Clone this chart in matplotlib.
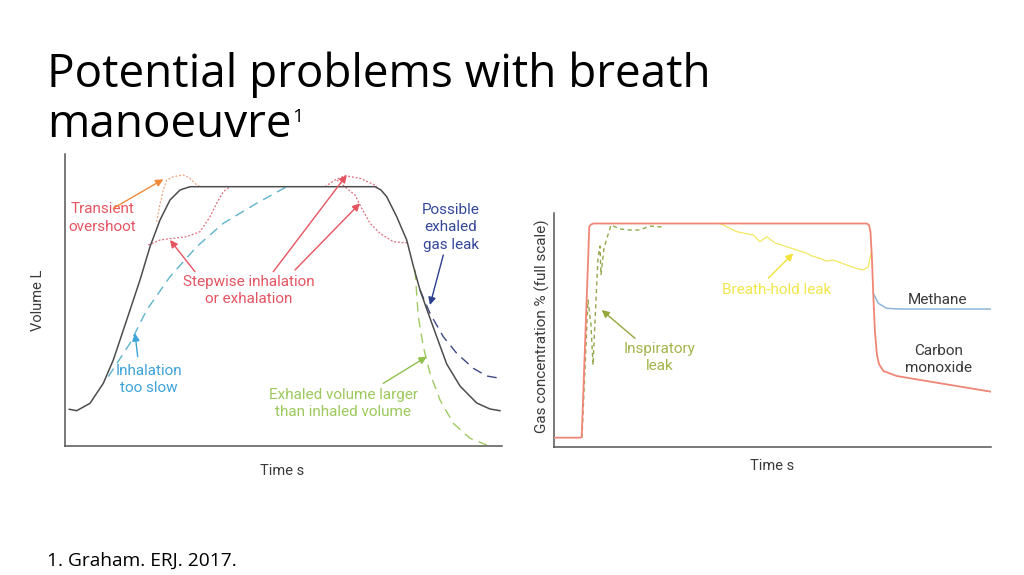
import matplotlib
matplotlib.use("Agg")
import matplotlib.pyplot as plt

plt.rcParams['font.family'] = ['Open Sans', 'DejaVu Sans']

# ---- left panel: volume vs time (arbitrary units) ----
normal_t = [4.3, 11.7, 25, 38.3, 48.3, 61.7, 75, 85, 95, 105, 115, 125,
            310, 316, 321.7, 331.7, 341.7, 348.3, 355, 361.7, 371.7, 381.7,
            395, 411.7, 425, 435]
normal_v = [36.7, 35.3, 42.7, 62.7, 86, 126, 166, 199.3, 226, 246, 256, 259.3,
            259.3, 256, 249.3, 229.3, 206, 180, 156, 137, 109.3, 82,
            60, 43, 37, 35.3]

slow_t = [43.3, 65, 81.7, 105, 131.7, 158.3, 191.7, 221.7]
slow_v = [69.3, 102.7, 136, 169.3, 199.3, 222.7, 242.7, 259.3]

overshoot_t = [91.7, 95, 98.3, 101.7, 108.3, 118.3, 125, 131.7, 135]
overshoot_v = [224.3, 242, 256, 266, 269.3, 271, 267.7, 261, 259.3]

step_in_t = [83.3, 95, 108.3, 121.7, 135, 145, 151.7, 158.3, 165]
step_in_v = [201, 206, 207.7, 209.3, 214.3, 229.3, 242.7, 254.3, 259.3]

step_hold_t = [260, 270, 280, 295, 308.3, 312]
step_hold_v = [259.3, 266, 270.3, 267.7, 261.7, 259.3]

step_out_t = [272, 281.7, 290, 296.7, 305, 315, 328.3, 343]
step_out_v = [266, 257.7, 251, 237.7, 222.7, 212.7, 204.3, 203]

leak_t = [355, 365, 378.3, 391.7, 408.3, 421.7, 435]
leak_v = [156, 132.7, 109.3, 92.7, 77.7, 70, 67.7]

larger_t = [350, 353.3, 358.3, 365, 375, 388.3, 405, 421.7]
larger_v = [176, 129.3, 99.3, 72.7, 46, 22.7, 7.7, 1]

# ---- right panel: gas concentration vs time ----
co_t = [0, 25.7, 27.4, 35, 36.7, 39, 312.4, 314.7, 316.2, 317.7, 319.2,
        320.7, 322.7, 324.7, 329, 342.4, 382.4, 436.7]
co_v = [9, 9, 9.7, 220, 222.2, 223.2, 223.2, 221.7, 214.7, 186.7, 146.7,
        113.7, 91.7, 82.7, 75.7, 70.7, 64, 55]

ch4_t = [319, 324, 332.4, 345, 436.7]
ch4_v = [153.4, 143.4, 138.4, 137.7, 137.7]

insp_t = [27.7, 33.7, 36.7, 38.7, 41.7, 43.7, 45.7, 46.7, 49.7, 56.7,
          65.7, 75.7, 85.7, 95.7, 107.7]
insp_v = [9, 146.7, 121.7, 81.7, 146.7, 188.7, 200.7, 171.7, 198.7, 221.7,
          217.7, 216.7, 216.7, 220.7, 219.7]

hold_t = [165.7, 182.4, 199, 205.7, 212.4, 220.7, 232.4, 242.4, 252.4, 257.7,
          265.7, 271.7, 279, 292.4, 300.7, 309, 314, 317.4]
hold_v = [223.4, 215, 211.7, 205, 210, 203.7, 200, 196.7, 193.4, 190.7,
          188.4, 185.7, 186.7, 181.7, 178.7, 176.7, 180, 196.7]

title_lines = ['Potential problems with breath', 'manoeuvre']
title_note = '1'
footnote = '1. Graham. ERJ. 2017.'

W, H = 1024, 575
fig = plt.figure(figsize=(W / 100, H / 100), dpi=100)
fig.patch.set_facecolor('white')

ink = '#555555'
lab = '#3a3a3a'
lbl_font = ['Roboto', 'DejaVu Sans']
fs = 11


def frame(ax, xmax, ymax):
    ax.set_xlim(0, xmax)
    ax.set_ylim(0, ymax)
    ax.set_xticks([])
    ax.set_yticks([])
    for s in ['top', 'right']:
        ax.spines[s].set_visible(False)
    for s in ['left', 'bottom']:
        ax.spines[s].set_color(ink)
        ax.spines[s].set_linewidth(1.1)
    ax.patch.set_alpha(0)


def arrow(ax, tail, head, color):
    ax.annotate('', xy=head, xytext=tail,
                arrowprops=dict(arrowstyle='-|>', color=color, lw=1.0,
                                mutation_scale=11, shrinkA=0, shrinkB=0))


def label(ax, x, y, s, color):
    ax.text(x, y, s, color=color, ha='center', va='center', fontsize=fs,
            family=lbl_font, linespacing=1.3)


# left axes
ax1 = fig.add_axes([65 / W, 1 - 446 / H, 437 / W, 292 / H])
frame(ax1, 437, 292)
ax1.plot(normal_t, normal_v, color='#4d4d4d', lw=1.1, zorder=3)
ax1.plot(slow_t, slow_v, color='#5fb3cf', lw=1.0, dashes=(7, 4.5))
ax1.plot(overshoot_t, overshoot_v, color='#eea27a', lw=0.9, dashes=(1.5, 1.5))
ax1.plot(step_in_t, step_in_v, color='#e06a78', lw=0.9, dashes=(1.5, 1.5))
ax1.plot(step_hold_t, step_hold_v, color='#e06a78', lw=0.9, dashes=(1.5, 1.5))
ax1.plot(step_out_t, step_out_v, color='#e06a78', lw=0.9, dashes=(1.5, 1.5))
ax1.plot(leak_t, leak_v, color='#3d4a82', lw=1.0, dashes=(7, 4.5))
ax1.plot(larger_t, larger_v, color='#9fca62', lw=1.0, dashes=(7, 4.5))

red = '#e55561'
label(ax1, 37.3, 228, 'Transient\novershoot', red)
arrow(ax1, (48.3, 237.7), (98.3, 266.7), '#f08a3a')
label(ax1, 184, 155.2, 'Stepwise inhalation\nor exhalation', red)
arrow(ax1, (130, 174.3), (105, 206), red)
arrow(ax1, (208.3, 174.3), (281.7, 271), red)
arrow(ax1, (230, 176), (295, 242.7), red)
label(ax1, 385.7, 218.7, 'Possible\nexhaled\ngas leak', '#34489a')
arrow(ax1, (378.3, 191), (365, 141), '#2d3f8f')
label(ax1, 84, 66.7, 'Inhalation\ntoo slow', '#3ea3d9')
arrow(ax1, (72.7, 89.3), (70, 112.7), '#3ea3d9')
label(ax1, 278.3, 42.7, 'Exhaled volume larger\nthan inhaled volume', '#9cc95c')
arrow(ax1, (318.3, 62.7), (361.7, 89.3), '#8fc04c')

fig.text(38 / W, 1 - 300 / H, 'Volume L', rotation=90, ha='center',
         va='center', color=lab, fontsize=10.5, family=lbl_font)
fig.text(282 / W, 1 - 471 / H, 'Time s', ha='center', va='center',
         color=lab, fontsize=10.5, family=lbl_font)

# right axes
ax2 = fig.add_axes([554.3 / W, 1 - 446.7 / H, 436.7 / W, 234 / H])
frame(ax2, 436.7, 234)
ax2.plot(ch4_t, ch4_v, color='#8fb6d9', lw=1.1)
ax2.plot(co_t, co_v, color='#ef8676', lw=1.3, zorder=3)
ax2.plot(insp_t, insp_v, color='#93a84a', lw=1.0, dashes=(3, 2.5))
ax2.plot(hold_t, hold_v, color='#f2e860', lw=0.9)

label(ax2, 222.4, 156.7, 'Breath-hold leak', '#f2e64a')
arrow(ax2, (214, 168.4), (239, 193.4), '#f2e23a')
label(ax2, 105, 89.2, 'Inspiratory\nleak', '#a3b44a')
arrow(ax2, (80.7, 108.4), (47.4, 136.7), '#93a83c')
label(ax2, 383, 146.7, 'Methane', lab)
label(ax2, 384, 87.5, 'Carbon\nmonoxide', lab)

fig.text(542 / W, 1 - 326 / H, 'Gas concentration % (full scale)',
         rotation=90, ha='center', va='center', color=lab, fontsize=11,
         family=lbl_font)
fig.text(772 / W, 1 - 466 / H, 'Time s', ha='center', va='center',
         color=lab, fontsize=10.5, family=lbl_font)

# title and footnote
fig.text(47 / W, 1 - 86.7 / H, title_lines[0], ha='left', va='baseline',
         fontsize=33, color='black')
t2 = fig.text(47 / W, 1 - 136.7 / H, title_lines[1], ha='left', va='baseline',
              fontsize=33, color='black')
bb = t2.get_window_extent(renderer=fig.canvas.get_renderer())
fig.text(bb.x1 / W + 1 / W, 1 - 122 / H, title_note, ha='left',
         va='baseline', fontsize=14, color='black')
fig.text(47 / W, 1 - 561 / H, footnote, ha='left', va='center',
         fontsize=13.8, color='black')

fig.savefig('out.png', dpi=100, facecolor='white')
